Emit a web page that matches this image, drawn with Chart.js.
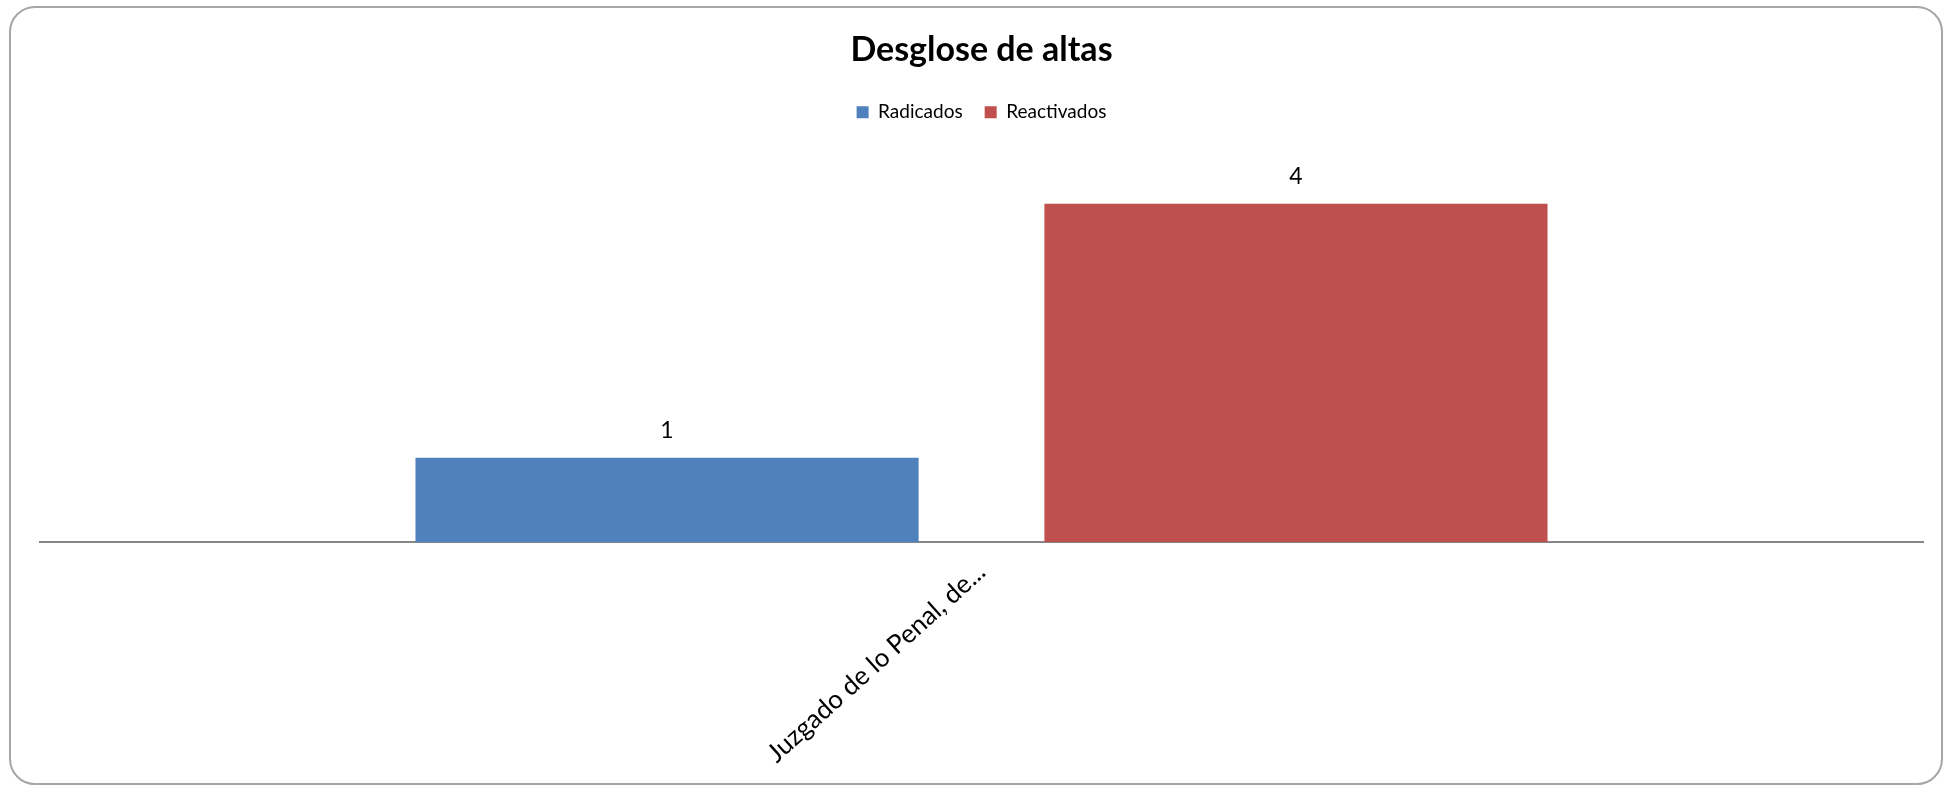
<!DOCTYPE html>
<html>
<head>
<meta charset="utf-8">
<title>Desglose de altas</title>
<script src="https://cdn.jsdelivr.net/npm/chart.js@4/dist/chart.umd.min.js"></script>
<style>
    html, body { margin: 0; padding: 0; background: #ffffff; }
    #wrap { position: relative; width: 1947px; height: 786px; overflow: hidden; }
    #frame {
        position: absolute; left: 9px; top: 6px; width: 1934px; height: 779px;
        box-sizing: border-box; border: 2px solid #a6a6a6; border-radius: 26px;
        pointer-events: none;
    }
    canvas { position: absolute; left: 0; top: 0; }
</style>
</head>
<body>
<div id="wrap">
    <canvas id="chart" width="1947" height="786"></canvas>
    <div id="frame"></div>
</div>
<script>
const categories = ['Juzgado de lo Penal, de...'];
const radicados = [1];
const reactivados = [4];

// draws the value above each bar, like the excel data labels
const valueLabels = {
    id: 'valueLabels',
    afterDatasetsDraw(chart) {
        const ctx = chart.ctx;
        ctx.save();
        ctx.font = '23px Lato';
        ctx.fillStyle = '#000000';
        ctx.textAlign = 'center';
        ctx.textBaseline = 'middle';
        chart.data.datasets.forEach(function (ds, i) {
            chart.getDatasetMeta(i).data.forEach(function (bar, j) {
                ctx.fillText(String(ds.data[j]), bar.x, bar.y - 27);
            });
        });
        ctx.restore();
    }
};

new Chart(document.getElementById('chart'), {
    type: 'bar',
    data: {
        labels: categories,
        datasets: [{
            label: 'Radicados',
            data: radicados,
            backgroundColor: '#4f81bd',
            borderWidth: 0
        }, {
            label: 'Reactivados',
            data: reactivados,
            backgroundColor: '#c0504d',
            borderWidth: 0
        }]
    },
    options: {
        responsive: false,
        animation: false,
        layout: {
            padding: { left: 40, right: 24, top: 0, bottom: 11 }
        },
        datasets: {
            bar: { categoryPercentage: 0.668, barPercentage: 0.8 }
        },
        plugins: {
            title: {
                display: true,
                text: 'Desglose de altas',
                color: '#000000',
                font: { family: 'Lato', size: 34, weight: 'bold' },
                padding: { top: 30, bottom: 10 }
            },
            legend: {
                display: true,
                labels: {
                    color: '#000000',
                    font: { family: 'Lato', size: 19 },
                    boxWidth: 12,
                    boxHeight: 12,
                    padding: 22
                }
            },
            tooltip: { enabled: false }
        },
        scales: {
            x: {
                grid: { display: false },
                border: { display: true, color: '#868686', width: 2 },
                ticks: {
                    color: '#000000',
                    font: { family: 'Lato', size: 26 },
                    minRotation: 42,
                    maxRotation: 42,
                    padding: 6
                }
            },
            y: {
                display: false,
                min: 0,
                max: 4.85
            }
        }
    },
    plugins: [valueLabels]
});
</script>
</body>
</html>
